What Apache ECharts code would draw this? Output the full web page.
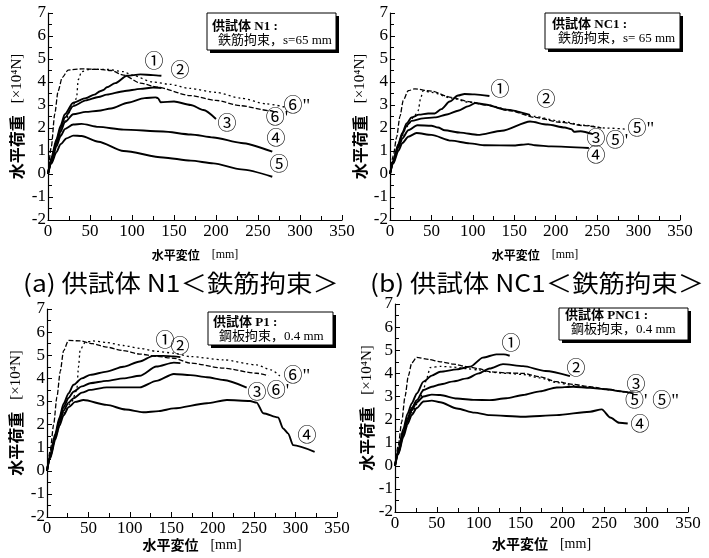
<!DOCTYPE html>
<html>
<head>
<meta charset="utf-8">
<script src="https://cdn.jsdelivr.net/npm/echarts@6/dist/echarts.min.js"></script>
<style>
html, body { margin: 0; padding: 0; background: #fff; }
#Chart { width: 709px; height: 558px; }
</style>
</head>
<body>
<div id="Chart"></div>
<script>
// axis ranges
var xRange = [0, 350];
var yRange = [-2, 7];

// (a) N1 : displacement [mm], load [x10^4 N]
var a1 = [[0,0],[4,0.7],[10,1.5],[15,2.1],[20,2.6],[30,3.1],[45,3.3],[55,3.45],[62,3.6],[66,3.65],[70,3.77],[80,3.95],[94,4.27],[110,4.33],[125,4.3],[135,4.27]];
var a2 = [[0,0],[4,0.6],[10,1.4],[15,2.0],[20,2.45],[30,2.95],[45,3.2],[60,3.35],[70,3.45],[90,3.6],[110,3.7],[125,3.76],[135,3.74]];
var a3 = [[0,0],[4,0.55],[10,1.3],[15,1.85],[20,2.25],[30,2.6],[45,2.7],[60,2.75],[75,2.85],[95,3.1],[115,3.3],[128,3.33],[131,3.3],[134,3.12],[150,3.15],[170,3.0],[185,2.78],[200,2.39]];
var a4 = [[0,0],[4,0.5],[10,1.2],[15,1.65],[20,1.95],[30,2.15],[40,2.18],[60,2.05],[90,1.93],[137,1.85],[170,1.72],[197,1.59],[230,1.35],[267,0.97]];
var a5 = [[0,0],[4,0.45],[10,0.95],[15,1.3],[22,1.55],[30,1.67],[40,1.65],[60,1.4],[90,1.0],[137,0.72],[170,0.58],[197,0.46],[230,0.2],[267,-0.12]];
var a6a = [[0,0],[4,1.2],[8,2.6],[12,3.6],[17,4.2],[24,4.52],[40,4.57],[60,4.55],[75,4.5],[90,4.3],[110,3.95],[130,3.78],[169,3.41],[200,3.2],[229,2.97],[265,2.75],[270,2.7]];
var a6b = [[0,0],[10,1.3],[20,2.3],[30,3.0],[34,3.3],[36,4.1],[40,4.45],[50,4.55],[70,4.55],[90,4.45],[100,4.3],[125,4.0],[145,3.9],[169,3.72],[200,3.55],[229,3.3],[260,3.05],[283,2.9]];

// (b) NC1
var b1 = [[0,0],[4,0.6],[10,1.3],[15,1.8],[20,2.2],[26,2.46],[35,2.58],[46,2.63],[54,2.63],[62,2.82],[72,3.15],[82,3.41],[90,3.48],[102,3.46],[120,3.39]];
var b2 = [[0,0],[4,0.55],[10,1.25],[15,1.75],[20,2.1],[26,2.31],[40,2.42],[54,2.46],[70,2.6],[82,2.75],[95,2.95],[103,3.09],[115,3.02],[140,2.8],[169,2.57]];
var b3 = [[0,0],[4,0.5],[10,1.15],[15,1.55],[22,1.9],[33,2.12],[50,2.1],[58,2.02],[66,1.9],[85,1.8],[106,1.7],[135,1.88],[169,2.28],[190,2.15],[211,2.02],[219,1.95],[222,1.84],[230,1.86],[245,1.73]];
var b4 = [[0,0],[4,0.45],[10,1.0],[15,1.35],[22,1.62],[32,1.78],[50,1.7],[74,1.45],[96,1.33],[115,1.25],[150,1.24],[167,1.3],[175,1.25],[195,1.2],[240,1.13]];
var b5a = [[0,0],[4,0.8],[8,1.6],[12,2.5],[16,3.2],[22,3.62],[30,3.7],[50,3.6],[74,3.33],[95,3.15],[115,3.0],[145,2.75],[175,2.46],[205,2.25],[235,2.1],[255,2.0]];
var b5b = [[0,0],[10,1.2],[20,2.05],[30,2.55],[34,2.75],[37,3.3],[40,3.62],[50,3.55],[74,3.3],[95,3.12],[115,3.02],[145,2.78],[175,2.5],[205,2.3],[235,2.12],[260,2.0],[285,1.95]];

// (c) P1
var c1 = [[0,0],[4,0.7],[10,1.6],[15,2.3],[20,2.9],[26,3.35],[32,3.72],[42,4.0],[52,4.15],[72,4.29],[92,4.5],[112,4.73],[128,4.97],[140,4.97],[153,4.95],[161,4.92]];
var c2 = [[0,0],[4,0.65],[10,1.5],[15,2.2],[20,2.75],[26,3.15],[32,3.42],[42,3.65],[52,3.79],[72,3.89],[92,4.0],[112,4.11],[132,4.51],[153,4.68],[161,4.66]];
var c3 = [[0,0],[4,0.6],[10,1.45],[15,2.1],[20,2.6],[26,2.95],[32,3.14],[42,3.38],[52,3.5],[72,3.61],[112,3.61],[132,3.89],[153,4.19],[173,4.14],[193,4.05],[213,3.93],[241,3.6]];
var c4 = [[0,0],[4,0.55],[10,1.35],[15,1.95],[20,2.4],[26,2.75],[34,2.98],[44,3.06],[72,2.85],[95,2.65],[116,2.53],[135,2.58],[153,2.7],[193,2.92],[217,3.06],[245,3.02],[253,2.95],[261,2.49],[279,2.31],[285,1.83],[291,1.62],[297,1.11],[323,0.82]];
var c6a = [[0,0],[4,0.9],[8,2.0],[12,3.2],[16,4.3],[20,5.2],[26,5.64],[40,5.62],[55,5.5],[72,5.35],[92,5.2],[112,5.05],[132,4.95],[153,4.87],[173,4.66],[213,4.44],[253,4.22],[267,4.12]];
var c6b = [[0,0],[10,1.5],[20,2.5],[30,3.0],[36,3.5],[38,4.5],[40,5.23],[46,5.55],[55,5.62],[72,5.55],[92,5.42],[112,5.3],[132,5.17],[153,5.09],[173,4.94],[213,4.8],[253,4.58],[270,4.37],[281,4.1]];

// (d) PNC1
var d1 = [[0,0],[4,0.7],[10,1.6],[15,2.25],[20,2.7],[26,3.13],[34,3.64],[44,3.9],[54,4.07],[74,4.17],[90,4.29],[105,4.68],[121,4.82],[130,4.82],[137,4.76]];
var d2 = [[0,0],[4,0.6],[10,1.45],[15,2.05],[20,2.5],[26,2.84],[34,3.28],[44,3.42],[54,3.52],[70,3.65],[86,3.78],[100,4.0],[113,4.21],[129,4.4],[153,4.31],[180,4.1],[209,3.88]];
var d3 = [[0,0],[4,0.55],[10,1.35],[15,1.95],[20,2.4],[26,2.75],[34,3.0],[44,3.08],[54,3.06],[74,2.91],[95,2.85],[113,2.84],[133,2.92],[153,3.06],[173,3.22],[193,3.39],[213,3.42],[233,3.37],[253,3.31],[270,3.22],[285,3.13]];
var d4 = [[0,0],[4,0.5],[10,1.25],[15,1.8],[20,2.2],[26,2.5],[34,2.78],[44,2.82],[54,2.75],[74,2.48],[95,2.3],[113,2.19],[153,2.12],[193,2.19],[233,2.34],[247,2.44],[257,2.09],[268,1.86],[278,1.83]];
var d5a = [[0,0],[4,0.9],[8,1.9],[12,3.0],[16,3.9],[20,4.45],[26,4.69],[40,4.6],[54,4.5],[70,4.4],[86,4.29],[100,4.2],[113,4.07],[133,4.02],[153,4.0],[173,3.85],[193,3.64],[213,3.52],[233,3.42],[255,3.3],[280,3.16]];
var d5b = [[0,0],[10,1.4],[20,2.3],[30,2.9],[34,3.3],[38,3.8],[42,4.25],[55,4.3],[70,4.27],[86,4.2],[100,4.15],[113,4.05],[133,4.0],[153,3.95],[173,3.8],[193,3.6],[213,3.47],[233,3.4],[255,3.28],[282,3.14]];

var captions = ['(a) 供試体 N1＜鉄筋拘束＞', '(b) 供試体 NC1＜鉄筋拘束＞'];
var boxLines = [
    ['供試体 N1 :', '鉄筋拘束，s=65 mm'],
    ['供試体 NC1 :', '鉄筋拘束，s= 65 mm'],
    ['供試体 P1 :', '鋼板拘束，0.4 mm'],
    ['供試体 PNC1 :', '鋼板拘束，0.4 mm']
];

var SERIF = "'Liberation Serif', 'Noto Sans CJK JP', serif";
var GOTHIC = "'Noto Sans CJK JP', sans-serif";

var Chart = echarts.init(document.getElementById('Chart'));

var grids = [
    {left: 48, top: 13, width: 294, height: 207},
    {left: 390, top: 13, width: 290, height: 207},
    {left: 47, top: 309, width: 290, height: 208},
    {left: 395, top: 304, width: 293, height: 208}
];
var yNameGap = [23, 22, 23, 20];
var xNameGap = [29, 29, 20, 25];
var xNameSize = [12, 12, 14, 14];

function xAxisOf(i) {
    return {
        gridIndex: i, type: 'value', min: xRange[0], max: xRange[1], interval: 50,
        axisLine: {show: true, onZero: false, lineStyle: {color: '#000', width: 1.2}},
        axisTick: {show: true, inside: true, length: 5, lineStyle: {color: '#000', width: 1}},
        minorTick: {show: true, splitNumber: 2, length: 4, lineStyle: {color: '#000', width: 1}},
        splitLine: {show: false},
        axisLabel: {color: '#000', fontFamily: SERIF, fontSize: 17, margin: 3, showMinLabel: true, showMaxLabel: true},
        name: '{j|水平変位}　{s|[mm]}',
        nameLocation: 'middle', nameGap: xNameGap[i],
        nameTextStyle: {rich: {
            j: {fontFamily: GOTHIC, fontSize: xNameSize[i], fontWeight: 'bold', color: '#000'},
            s: {fontFamily: SERIF, fontSize: xNameSize[i], color: '#000'}
        }}
    };
}

function yAxisOf(i) {
    return {
        gridIndex: i, type: 'value', min: yRange[0], max: yRange[1], interval: 1,
        axisLine: {show: true, onZero: false, lineStyle: {color: '#000', width: 1.2}},
        axisTick: {show: true, inside: true, length: 5, lineStyle: {color: '#000', width: 1}},
        minorTick: {show: true, splitNumber: 2, length: 4, lineStyle: {color: '#000', width: 1}},
        splitLine: {show: false},
        axisLabel: {color: '#000', fontFamily: SERIF, fontSize: 17, margin: 2, showMinLabel: true, showMaxLabel: true},
        name: '{j|水平荷重}　{s|[×10⁴N]}',
        nameLocation: 'middle', nameGap: yNameGap[i],
        nameTextStyle: {rich: {
            j: {fontFamily: GOTHIC, fontSize: 16, fontWeight: 'bold', color: '#000'},
            s: {fontFamily: SERIF, fontSize: 15, color: '#000'}
        }}
    };
}

function curve(data, i, kind) {
    var ls = {color: '#000', width: 1.9, type: 'solid'};
    if (kind === 'dash') ls = {color: '#000', width: 1.3, type: [5, 2]};
    if (kind === 'dot') ls = {color: '#000', width: 1.3, type: [2, 3]};
    return {
        type: 'line', xAxisIndex: i, yAxisIndex: i, data: data,
        showSymbol: false, symbol: 'none', smooth: 0.25, smoothMonotone: 'x',
        lineStyle: ls, silent: true
    };
}

function mark(txt, x, y) {
    return {type: 'text', x: x, y: y, silent: true,
        style: {text: txt, fontFamily: SERIF, fontSize: 19, fill: '#000', align: 'center', verticalAlign: 'middle'}};
}

function box(i, x, y, w, h, tx, ty) {
    return {type: 'group', silent: true, children: [
        {type: 'rect', shape: {x: x + 3, y: y + 3, width: w, height: h}, style: {fill: '#000'}},
        {type: 'rect', shape: {x: x, y: y, width: w, height: h}, style: {fill: '#fff', stroke: '#000', lineWidth: 1}},
        {type: 'text', x: tx, y: ty, style: {text: boxLines[i][0], fontFamily: SERIF, fontSize: 13, fontWeight: 'bold', fill: '#000', verticalAlign: 'middle'}},
        {type: 'text', x: tx + 6, y: ty + 14, style: {text: boxLines[i][1], fontFamily: SERIF, fontSize: 13, fill: '#000', verticalAlign: 'middle'}}
    ]};
}

var option = {
    animation: false,
    backgroundColor: '#fff',
    grid: grids.map(function (g) {
        return {left: g.left, top: g.top, width: g.width, height: g.height, containLabel: false, outerBoundsMode: 'none'};
    }),
    xAxis: [0, 1, 2, 3].map(xAxisOf),
    yAxis: [0, 1, 2, 3].map(yAxisOf),
    series: [
        curve(a1, 0), curve(a2, 0), curve(a3, 0), curve(a4, 0), curve(a5, 0), curve(a6a, 0, 'dash'), curve(a6b, 0, 'dot'),
        curve(b1, 1), curve(b2, 1), curve(b3, 1), curve(b4, 1), curve(b5a, 1, 'dash'), curve(b5b, 1, 'dot'),
        curve(c1, 2), curve(c2, 2), curve(c3, 2), curve(c4, 2), curve(c6a, 2, 'dash'), curve(c6b, 2, 'dot'),
        curve(d1, 3), curve(d2, 3), curve(d3, 3), curve(d4, 3), curve(d5a, 3, 'dash'), curve(d5b, 3, 'dot')
    ],
    graphic: [
        box(0, 207, 13, 129, 37, 212, 27),
        box(1, 545, 13, 135, 36, 552, 25),
        box(2, 208, 312, 125, 33, 213, 323),
        box(3, 559, 308, 129, 32, 565, 316),
        {type: 'text', x: 23, y: 283, scaleX: 1.1, silent: true,
            style: {text: captions[0], fontFamily: GOTHIC, fontSize: 24, fill: '#000', verticalAlign: 'middle'}},
        {type: 'text', x: 370, y: 283, scaleX: 1.1, silent: true,
            style: {text: captions[1], fontFamily: GOTHIC, fontSize: 24, fill: '#000', verticalAlign: 'middle'}},
        // (a)
        mark('①', 154, 63), mark('②', 180, 72), mark('③', 227, 125), mark('④', 276, 140),
        mark('⑤', 279, 166), mark("⑥'", 277, 119), mark('⑥"', 297, 107),
        // (b)
        mark('①', 500, 91), mark('②', 546, 101), mark('⑤"', 641, 130), mark('③', 596, 140),
        mark("⑤'", 617, 142), mark('④', 596, 157),
        // (c)
        mark('①', 165, 342), mark('②', 180, 348), mark('⑥"', 297, 377), mark('③', 257, 394),
        mark("⑥'", 278, 392), mark('④', 307, 437),
        // (d)
        mark('①', 511, 345), mark('②', 576, 370), mark('③', 636, 386), mark('⑤\' ⑤"', 652, 402),
        mark('④', 640, 426)
    ]
};

Chart.setOption(option);

window.addEventListener('resize', function () {
    Chart.resize();
});
</script>
</body>
</html>
